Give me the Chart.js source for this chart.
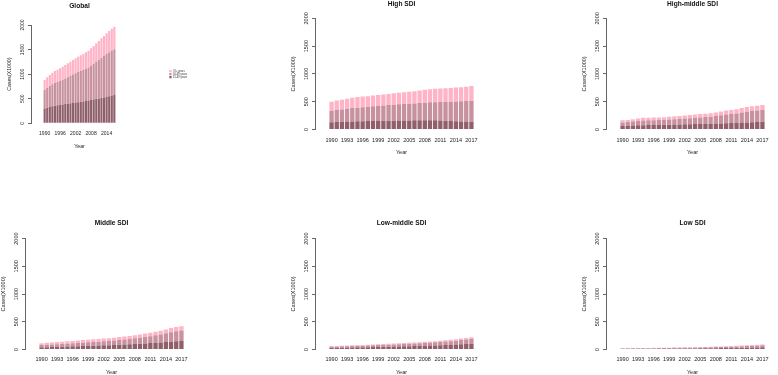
<!DOCTYPE html>
<html>
<head>
<meta charset="utf-8">
<title>Cases by SDI</title>
<script src="https://cdn.jsdelivr.net/npm/chart.js@4.4.0/dist/chart.umd.min.js"></script>
<style>
html, body { margin: 0; padding: 0; background: #fff; width: 778px; height: 375px; overflow: hidden; }
.panel { position: absolute; }
</style>
</head>
<body>
<div class="panel"><canvas id="globalChart"></canvas></div>
<div class="panel"><canvas id="highChart"></canvas></div>
<div class="panel"><canvas id="highMiddleChart"></canvas></div>
<div class="panel"><canvas id="middleChart"></canvas></div>
<div class="panel"><canvas id="lowMiddleChart"></canvas></div>
<div class="panel"><canvas id="lowChart"></canvas></div>
<script>
// years on the x axis
const years = [1990, 1991, 1992, 1993, 1994, 1995, 1996, 1997, 1998, 1999, 2000, 2001, 2002, 2003,
               2004, 2005, 2006, 2007, 2008, 2009, 2010, 2011, 2012, 2013, 2014, 2015, 2016, 2017];
const globalTicks = [1990, 1996, 2002, 2008, 2014];
const sdiTicks = [1990, 1993, 1996, 1999, 2002, 2005, 2008, 2011, 2014, 2017];
const yTicks = [0, 500, 1000, 1500, 2000];
const ageGroups = ['15-49 years', '50-69 years', '70+ years'];

// cases (x1000), stacked bottom to top: 15-49, 50-69, 70+
const global15to49 = [300, 315, 330, 345, 355, 365, 375, 385, 393, 400, 408, 415, 422, 430, 437, 445, 453, 462, 472, 482, 492, 502, 513, 525, 538, 552, 565, 578];
const global50to69 = [378, 405, 427, 449, 464, 476, 487, 503, 520, 539, 558, 577, 596, 614, 628, 641, 659, 676, 702, 729, 761, 788, 818, 843, 872, 894, 917, 927];
const global70plus = [203, 216, 226, 237, 245, 251, 257, 265, 273, 281, 288, 296, 304, 312, 318, 324, 332, 340, 351, 362, 374, 385, 398, 408, 421, 432, 443, 461];

const high15to49 = [132, 135, 138, 142, 145, 148, 150, 152, 153, 155, 156, 157, 158, 160, 162, 163, 165, 166, 168, 167, 165, 162, 158, 155, 150, 146, 142, 138];
const high50to69 = [204, 217, 224, 233, 240, 245, 250, 256, 265, 270, 276, 283, 288, 292, 296, 299, 303, 310, 314, 321, 327, 333, 340, 345, 353, 361, 369, 379];
const high70plus = [162, 168, 175, 180, 185, 192, 192, 192, 192, 195, 196, 200, 204, 208, 210, 216, 220, 224, 233, 237, 240, 243, 244, 248, 252, 255, 259, 264];

const highMid15to49 = [62, 65, 70, 75, 78, 80, 82, 83, 85, 87, 89, 91, 93, 95, 97, 99, 101, 103, 106, 110, 113, 116, 120, 124, 128, 132, 135, 138];
const highMid50to69 = [66, 68, 73, 80, 85, 85, 86, 87, 88, 93, 97, 101, 105, 109, 113, 119, 123, 127, 137, 146, 155, 162, 168, 180, 192, 201, 205, 212];
const highMid70plus = [37, 39, 42, 45, 47, 47, 47, 48, 49, 50, 52, 53, 54, 56, 58, 60, 61, 62, 65, 69, 72, 74, 77, 81, 85, 87, 88, 90];

const middle15to49 = [38, 40, 43, 46, 49, 52, 55, 58, 61, 64, 67, 70, 73, 76, 80, 84, 88, 92, 97, 102, 108, 114, 120, 126, 133, 140, 146, 152];
const middle50to69 = [42, 44, 46, 48, 50, 52, 55, 58, 61, 64, 67, 70, 73, 77, 81, 86, 91, 96, 103, 110, 117, 124, 134, 145, 157, 170, 182, 191];
const middle70plus = [32, 34, 36, 38, 39, 41, 42, 44, 46, 47, 48, 48, 49, 50, 51, 52, 53, 54, 56, 58, 60, 62, 64, 67, 70, 75, 77, 77];

const lowMid15to49 = [28, 29, 31, 33, 35, 37, 39, 41, 43, 45, 47, 49, 51, 53, 55, 57, 60, 63, 66, 69, 72, 75, 79, 83, 87, 92, 97, 102];
const lowMid50to69 = [22, 24, 25, 26, 27, 28, 29, 31, 32, 34, 35, 37, 38, 40, 42, 44, 46, 48, 50, 53, 56, 59, 62, 65, 70, 76, 83, 90];
const lowMid70plus = [10, 10, 10, 11, 11, 12, 13, 13, 14, 14, 15, 15, 16, 16, 17, 18, 18, 19, 20, 20, 21, 22, 23, 24, 25, 27, 28, 28];

const low15to49 = [10, 10, 11, 11, 12, 12, 13, 13, 14, 14, 15, 16, 16, 17, 18, 19, 20, 21, 22, 24, 25, 27, 28, 30, 32, 34, 36, 38];
const low50to69 = [8, 9, 9, 10, 10, 10, 10, 11, 11, 12, 13, 13, 14, 15, 15, 16, 17, 18, 20, 20, 22, 23, 25, 26, 28, 30, 32, 35];
const low70plus = [4, 4, 4, 4, 4, 5, 5, 5, 6, 6, 6, 6, 7, 7, 8, 8, 8, 9, 9, 10, 10, 11, 12, 13, 14, 15, 16, 17];

const ageColors = ['#8f5f6b', '#c8919f', '#ffb3c6'];

Chart.defaults.font.family = "'Liberation Sans', Arial, sans-serif";
Chart.defaults.color = '#222';
Chart.defaults.animation = false;

// panel boxes in page pixels
const topRow = { top: 0, height: 156, xh: 26.5, titlePad: 10.4, tickPad: 7.5, tick: 5.5, lab: 5.5 };
const bottomRow = { top: 218.7, height: 157, xh: 26.6, titlePad: 11.7, tickPad: 7, tick: 5.5, lab: 5.5 };

function drawPanel(canvasId, title, series, tickYears, pos, withLegend) {
    const canvas = document.getElementById(canvasId);
    const wrap = canvas.parentElement;
    wrap.style.left = pos.left + 'px';
    wrap.style.top = pos.top + 'px';
    wrap.style.width = pos.width + 'px';
    wrap.style.height = pos.height + 'px';

    const datasets = series.map((values, i) => ({
        label: ageGroups[i],
        data: values,
        backgroundColor: ageColors[i],
        borderWidth: 0,
        categoryPercentage: 1,
        barPercentage: 0.833
    }));

    const scales = {
        x: {
            type: 'linear',
            stacked: true,
            min: years[0] - 1.53,
            max: years[years.length - 1] + 1.53,
            afterBuildTicks: s => { s.ticks = tickYears.map(v => ({ value: v })); },
            afterFit: s => { s.height = pos.xh; },
            grid: { display: false, drawTicks: false },
            border: { display: false },
            ticks: { callback: v => String(v), padding: pos.tickPad, autoSkip: false, maxRotation: 0, font: { size: pos.tick } },
            title: { display: true, text: 'Year', font: { size: pos.lab }, padding: 0 }
        },
        y: {
            stacked: true,
            min: 0,
            max: 2000,
            afterBuildTicks: s => { s.ticks = yTicks.map(v => ({ value: v })); },
            afterFit: s => { s.width = 25; },
            grid: { drawOnChartArea: false, drawTicks: true, tickLength: 3, color: '#666' },
            border: { display: true, color: '#666' },
            ticks: { callback: v => String(v), minRotation: 90, maxRotation: 90, crossAlign: 'center', padding: -0.5, font: { size: pos.tick } },
            title: { display: true, text: 'Cases(X1000)', font: { size: pos.lab }, padding: 0 }
        }
    };

    if (withLegend) {
        // empty axis used only to push the legend away from the plot
        scales.spacer = {
            position: 'right',
            display: true,
            afterFit: s => { s.width = 41; },
            grid: { display: false, drawTicks: false },
            border: { display: false },
            ticks: { display: false }
        };
    }

    return new Chart(canvas, {
        type: 'bar',
        data: { labels: years, datasets: datasets },
        options: {
            responsive: true,
            maintainAspectRatio: false,
            layout: { padding: { left: 0, top: 0, bottom: 0, right: pos.padRight } },
            plugins: {
                title: {
                    display: true,
                    text: title,
                    fullSize: false,
                    color: '#111',
                    font: { size: 6.6, weight: 'bold' },
                    padding: { top: 0, bottom: pos.titlePad }
                },
                legend: withLegend ? {
                    display: true,
                    position: 'right',
                    fullSize: false,
                    reverse: true,
                    maxWidth: 20,
                    labels: { boxWidth: 2.3, boxHeight: 2.3, padding: 0.3, font: { size: 2.7 }, color: '#333' }
                } : { display: false },
                tooltip: { enabled: false }
            },
            scales: scales
        }
    });
}

drawPanel('globalChart', 'Global', [global15to49, global50to69, global70plus], globalTicks,
    { left: 6, top: 2, width: 203, height: 147.3, xh: 26, titlePad: 15.1, tickPad: 7, tick: 5, lab: 5.2, padRight: 20 }, true);
drawPanel('highChart', 'High SDI', [high15to49, high50to69, high70plus], sdiTicks,
    Object.assign({ left: 290, width: 208, padRight: 10 }, topRow), false);
drawPanel('highMiddleChart', 'High-middle SDI', [highMid15to49, highMid50to69, highMid70plus], sdiTicks,
    Object.assign({ left: 581, width: 208, padRight: 10 }, topRow), false);
drawPanel('middleChart', 'Middle SDI', [middle15to49, middle50to69, middle70plus], sdiTicks,
    Object.assign({ left: 0, width: 208, padRight: 10 }, bottomRow), false);
drawPanel('lowMiddleChart', 'Low-middle SDI', [lowMid15to49, lowMid50to69, lowMid70plus], sdiTicks,
    Object.assign({ left: 290, width: 208, padRight: 10 }, bottomRow), false);
drawPanel('lowChart', 'Low SDI', [low15to49, low50to69, low70plus], sdiTicks,
    Object.assign({ left: 581, width: 208, padRight: 10 }, bottomRow), false);
</script>
</body>
</html>
